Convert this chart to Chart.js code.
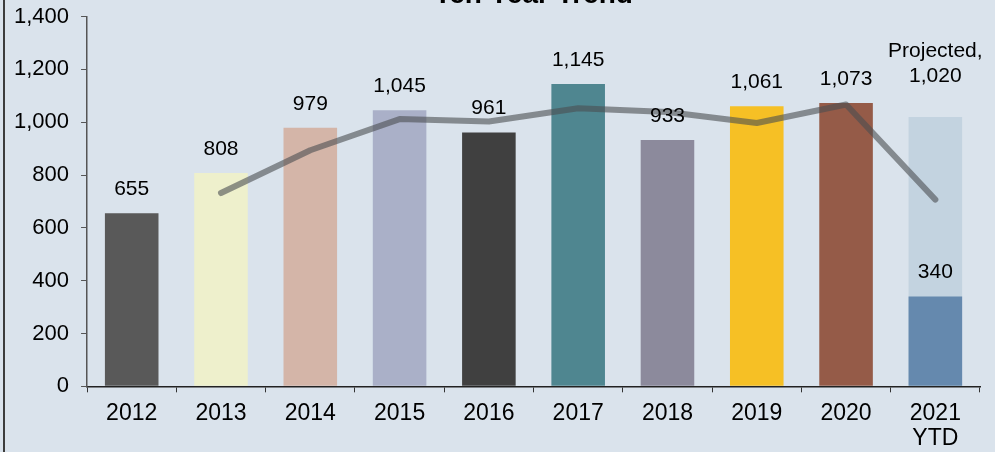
<!DOCTYPE html>
<html>
<head>
<meta charset="utf-8">
<script src="https://cdn.jsdelivr.net/npm/chart.js@4"></script>
<style>
  html, body { margin: 0; padding: 0; background: #dae3ec; overflow: hidden; }
  #wrap { position: absolute; left: 0; top: -22px; width: 995px; height: 482px; }
  #edge { position: absolute; left: 3px; top: 0; width: 2px; height: 452px; background: #3c3c3c; }
</style>
</head>
<body>
<div id="wrap"><canvas id="trendChart"></canvas></div>
<div id="edge"></div>
<script>
// Ten year totals
const years = ['2012', '2013', '2014', '2015', '2016', '2017', '2018', '2019', '2020', ['2021', 'YTD']];
const actual = [655, 808, 979, 1045, 961, 1145, 933, 1061, 1073, 340];
const projected = [null, null, null, null, null, null, null, null, null, 1020];
const trend = [null, 732, 894, 1012, 1003, 1053, 1039, 997, 1067, 707];
const yTicks = [0, 200, 400, 600, 800, 1000, 1200, 1400];

const barColors = ['#595959', '#eef0cc', '#d4b5a8', '#aab0c8', '#404040',
                   '#4f8690', '#8c8a9c', '#f6c025', '#955b48', '#6589ae'];

Chart.defaults.font.family = "'Liberation Sans', Arial, sans-serif";
Chart.defaults.color = '#000';

const fmt = v => v.toLocaleString('en-US');

// draws the value above each bar
const barLabels = {
  id: 'barLabels',
  afterDatasetsDraw(chart) {
    const ctx = chart.ctx;
    ctx.save();
    ctx.font = "21px 'Liberation Sans', Arial, sans-serif";
    ctx.fillStyle = '#000';
    ctx.textAlign = 'center';
    ctx.textBaseline = 'middle';
    chart.data.datasets.forEach((ds, di) => {
      if (ds.type === 'line') return;
      const meta = chart.getDatasetMeta(di);
      meta.data.forEach((bar, i) => {
        const v = ds.data[i];
        if (v == null) return;
        if (ds.label === 'Projected') {
          ctx.fillText('Projected,', bar.x, bar.y - 66);
          ctx.fillText(fmt(v), bar.x, bar.y - 41);
        } else {
          ctx.fillText(fmt(v), bar.x, bar.y - 24);
        }
      });
    });
    ctx.restore();
  }
};

const ctx = document.getElementById('trendChart').getContext('2d');
const trendChart = new Chart(ctx, {
  data: {
    labels: years,
    datasets: [
      {
        type: 'line',
        label: 'Trend',
        data: trend,
        borderColor: 'rgba(75, 78, 82, 0.6)',
        borderWidth: 6,
        borderCapStyle: 'round',
        borderJoinStyle: 'round',
        pointRadius: 0,
        tension: 0,
        order: 0
      },
      {
        type: 'bar',
        label: 'Actual',
        data: actual,
        backgroundColor: barColors,
        grouped: false,
        barPercentage: 0.6,
        categoryPercentage: 1,
        order: 1
      },
      {
        type: 'bar',
        label: 'Projected',
        data: projected,
        backgroundColor: '#c3d3e0',
        grouped: false,
        barPercentage: 0.6,
        categoryPercentage: 1,
        order: 2
      }
    ]
  },
  options: {
    responsive: true,
    maintainAspectRatio: false,
    animation: false,
    layout: { padding: { left: 2, right: 15, top: 0, bottom: 0 } },
    scales: {
      x: {
        offset: true,
        grid: { offset: true, drawOnChartArea: false, drawTicks: true, tickLength: 6, color: '#333' },
        border: { display: true, color: '#222', width: 1.5 },
        ticks: { font: { size: 23, lineHeight: 1.08 }, padding: 9, maxRotation: 0, autoSkip: false }
      },
      y: {
        min: 0,
        max: 1400,
        afterBuildTicks: axis => { axis.ticks = yTicks.map(v => ({ value: v })); },
        grid: { drawOnChartArea: false, drawTicks: true, tickLength: 6, color: '#555' },
        border: { display: true, color: '#555', width: 1.5 },
        ticks: { font: { size: 22 }, padding: 12, callback: v => fmt(v) }
      }
    },
    plugins: {
      legend: { display: false },
      tooltip: { enabled: false },
      title: {
        display: true,
        text: 'Ten Year Trend',
        fullSize: false,
        color: '#000',
        font: { size: 28, weight: 'bold' },
        padding: { top: 0, bottom: 5 }
      }
    }
  },
  plugins: [barLabels]
});
</script>
</body>
</html>
